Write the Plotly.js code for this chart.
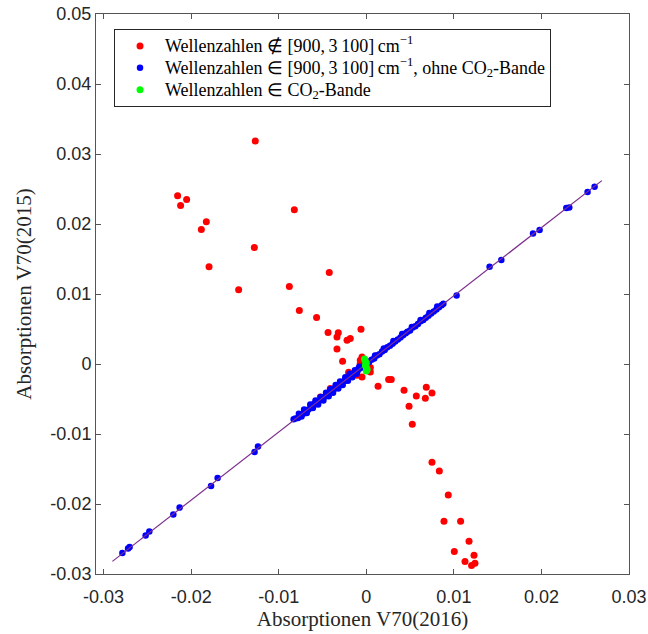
<!DOCTYPE html>
<html>
<head>
<meta charset="utf-8">
<script src="https://cdn.plot.ly/plotly-3.0.1.min.js"></script>
<style>html,body{margin:0;padding:0;background:#fff;}#chart{width:648px;height:634px;}</style>
</head>
<body>
<div id="chart"></div>
<script>
// Red: wavenumbers outside [900, 3100] cm^-1
var redX = [-0.01268,-0.02155,-0.02052,-0.02121,-0.01827,-0.01884,-0.00822,-0.01279,-0.01796,-0.00423,
  -0.01458,-0.00879,-0.00765,-0.00568,-0.00437,-0.00320,-0.00335,-0.00061,-0.00220,-0.00183,
  -0.00335,-0.00271,-0.00049,-0.00069,-0.00088,0.00046,-0.00202,-0.00106,-0.00049,0.00046,
  0.00255,0.00285,0.00134,0.00431,0.00571,0.00685,0.00750,0.00674,0.00488,0.00525,
  -0.00602,-0.00632,-0.00411,-0.00525,0.00026,-0.00069,
  0.00750,0.00834,0.00936,0.00887,0.01077,0.01173,0.01005,0.01230,0.01127,0.01202,0.01241];
var redY = [0.03185,0.02403,0.02351,0.02266,0.02031,0.01923,0.02203,0.01665,0.01388,0.01308,
  0.01059,0.01108,0.00765,0.00665,0.00450,0.00445,0.00387,0.00497,0.00340,0.00364,
  0.00216,0.00040,0.00101,0.00007,-0.00064,-0.00050,-0.00117,-0.00160,-0.00184,-0.00113,
  -0.00222,-0.00222,-0.00317,-0.00374,-0.00456,-0.00332,-0.00413,-0.00489,-0.00603,-0.00860,
  -0.00575,-0.00613,-0.00350,-0.00470,0.00030,0.00054,
  -0.01404,-0.01528,-0.01871,-0.02247,-0.02247,-0.02533,-0.02680,-0.02733,-0.02823,-0.02880,-0.02847];

// Blue: wavenumbers in [900, 3100] cm^-1 without CO2 band
var blueX = [-0.02786,-0.02721,-0.02703,-0.02520,-0.02478,-0.02204,-0.02132,-0.01773,-0.01698,-0.01276,-0.01237,
  -0.0083,-0.0081,-0.0078,-0.0076,-0.0072,-0.0069,-0.0066,-0.0063,-0.0060,-0.0058,-0.0054,-0.0051,-0.0048,-0.0046,
  -0.0043,-0.0040,-0.0037,-0.0035,-0.0032,-0.0029,-0.0026,-0.0024,-0.0021,-0.0018,-0.0015,-0.0013,-0.0010,-0.0007,
  -0.0004,0.0003,0.0006,0.0009,0.0012,0.0015,0.0018,0.0021,0.0024,0.0027,0.0030,0.0033,0.0036,0.0039,0.0042,
  0.0045,0.0047,0.0050,0.0053,0.0056,0.0059,0.0062,0.0065,0.0068,0.0071,0.0074,0.0077,0.0080,0.0083,0.0086,0.0088,
  -0.0077,-0.0071,-0.0064,-0.0058,-0.0052,-0.0046,-0.0041,-0.0035,-0.0030,-0.0024,-0.0019,-0.0013,-0.0008,
  -0.0074,-0.0068,-0.0061,-0.0055,-0.0049,-0.0043,-0.0038,-0.0032,-0.0027,-0.0021,-0.0016,-0.0011,
  0.0010,0.0020,0.0031,0.0041,0.0052,0.0062,0.0072,0.0081,
  0.01031,0.01408,0.01542,0.01904,0.01979,0.02284,0.02318,0.02527,0.02607];
var blueY = [-0.02700,-0.02637,-0.02614,-0.02451,-0.02394,-0.02151,-0.02051,-0.01742,-0.01628,-0.01256,-0.01179,
  -0.0079,-0.0078,-0.0077,-0.0073,-0.0071,-0.0066,-0.0065,-0.0061,-0.0059,-0.0055,-0.0053,-0.0049,-0.0047,-0.0044,
  -0.0042,-0.0039,-0.0036,-0.0033,-0.0031,-0.0029,-0.0025,-0.0024,-0.0020,-0.0018,-0.0014,-0.0013,-0.0010,-0.0006,
  -0.0004,0.0003,0.0006,0.0008,0.0012,0.0014,0.0018,0.0020,0.0024,0.0026,0.0029,0.0032,0.0035,0.0038,0.0041,
  0.0044,0.0046,0.0048,0.0052,0.0054,0.0057,0.0061,0.0063,0.0066,0.0069,0.0072,0.0075,0.0078,0.0081,0.0084,0.0086,
  -0.0071,-0.0065,-0.0058,-0.0052,-0.0047,-0.0041,-0.0036,-0.0030,-0.0025,-0.0019,-0.0014,-0.0009,-0.0004,
  -0.0075,-0.0070,-0.0063,-0.0058,-0.0052,-0.0046,-0.0041,-0.0035,-0.0030,-0.0024,-0.0019,-0.0014,
  0.0012,0.0022,0.0033,0.0043,0.0053,0.0063,0.0073,0.0082,
  0.00979,0.01388,0.01484,0.01865,0.01913,0.02227,0.02237,0.02456,0.02531];

// Green: wavenumbers in CO2 band
var greenX = [-0.0002,-0.0001,0.0000,-0.0001,0.0000,0.0001,0.0000];
var greenY = [0.0007,0.0004,0.0001,-0.0002,-0.0005,-0.0008,-0.0010];

// Reference line
var lineX = [-0.0290, 0.0269];
var lineY = [-0.0282, 0.0262];

var xTickVals = [-0.03,-0.02,-0.01,0,0.01,0.02,0.03];
var xTickText = ['-0.03','-0.02','-0.01','0','0.01','0.02','0.03'];
var yTickVals = [-0.03,-0.02,-0.01,0,0.01,0.02,0.03,0.04,0.05];
var yTickText = ['-0.03','-0.02','-0.01','0','0.01','0.02','0.03','0.04','0.05'];

function big(s) { return '<span style="font-size:18px">' + s + '</span>'; }
var legRed = big('Wellenzahlen \u2209 [900,\u20093\u2009100]\u2009cm<sup>\u22121</sup>');
var legBlue = big('Wellenzahlen \u2208 [900,\u20093\u2009100]\u2009cm<sup>\u22121</sup>, ohne CO<sub>2</sub>-Bande');
var legGreen = big('Wellenzahlen \u2208 CO<sub>2</sub>-Bande');

var traces = [
  {x: redX, y: redY, type: 'scatter', mode: 'markers', name: legRed,
   marker: {color: '#FF0000', size: 7, line: {width: 0}}},
  {x: blueX, y: blueY, type: 'scatter', mode: 'markers', name: legBlue,
   marker: {color: '#0000FF', size: 6.5, line: {width: 0}}},
  {x: lineX, y: lineY, type: 'scatter', mode: 'lines', showlegend: false,
   line: {color: '#7E2F8E', width: 1.2}},
  {x: greenX, y: greenY, type: 'scatter', mode: 'markers', name: legGreen,
   marker: {color: '#00FF00', size: 7, line: {width: 0}}}
];

var axisCommon = {
  showgrid: false, zeroline: false, showline: true, mirror: 'ticks',
  linecolor: '#555', linewidth: 1, ticks: 'inside', ticklen: 5, tickcolor: '#555',
  tickfont: {family: 'Liberation Sans, Arial, sans-serif', size: 18, color: '#262626'}
};

var layout = {
  width: 648, height: 634,
  margin: {l: 96, r: 19, t: 14, b: 60},
  paper_bgcolor: '#fff', plot_bgcolor: '#fff',
  showlegend: true,
  xaxis: Object.assign({}, axisCommon, {
    range: [-0.03087, 0.03], tickvals: xTickVals, ticktext: xTickText,
    ticklabelstandoff: 6,
    title: {text: 'Absorptionen V70(2016)', standoff: 0,
      font: {family: 'Liberation Serif, serif', size: 21, color: '#262626'}}
  }),
  yaxis: Object.assign({}, axisCommon, {
    range: [-0.03, 0.05], tickvals: yTickVals, ticktext: yTickText,
    title: {text: 'Absorptionen V70(2015)', standoff: 13,
      font: {family: 'Liberation Serif, serif', size: 21, color: '#262626'}}
  }),
  legend: {
    x: 0.0338, y: 0.9734, xanchor: 'left', yanchor: 'top',
    bgcolor: '#fff', bordercolor: '#262626', borderwidth: 1,
    font: {family: 'Liberation Serif, serif', size: 14.6, color: '#000'},
    itemwidth: 40, tracegroupgap: 0
  }
};

Plotly.newPlot('chart', traces, layout, {displayModeBar: false, staticPlot: true});
</script>
</body>
</html>
